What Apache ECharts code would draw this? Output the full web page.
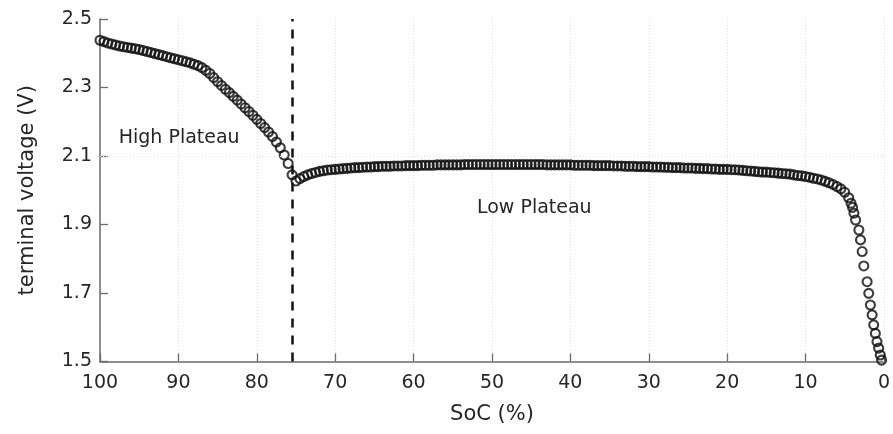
<!DOCTYPE html>
<html>
<head>
<meta charset="utf-8">
<script src="https://cdn.jsdelivr.net/npm/echarts@6/dist/echarts.min.js"></script>
<style>
html,body{margin:0;padding:0;background:#fff;}
#c{width:893px;height:434px;}
</style>
</head>
<body>
<div id="c"></div>
<script>
// SoC (%) sample positions
var soc = [
100,99.5,99,98.5,98,97.5,97,96.5,96,95.5,
95,94.5,94,93.5,93,92.5,92,91.5,91,90.5,
90,89.5,89,88.5,88,87.5,87,86.5,86,85.5,
85,84.5,84,83.5,83,82.5,82,81.5,81,80.5,
80,79.5,79,78.5,78,77.5,77,76.5,76,75.5,
75,74.5,74,73.5,73,72.5,72,71.5,71,70.5,
70,69.5,69,68.5,68,67.5,67,66.5,66,65.5,
65,64.5,64,63.5,63,62.5,62,61.5,61,60.5,
60,59.5,59,58.5,58,57.5,57,56.5,56,55.5,
55,54.5,54,53.5,53,52.5,52,51.5,51,50.5,
50,49.5,49,48.5,48,47.5,47,46.5,46,45.5,
45,44.5,44,43.5,43,42.5,42,41.5,41,40.5,
40,39.5,39,38.5,38,37.5,37,36.5,36,35.5,
35,34.5,34,33.5,33,32.5,32,31.5,31,30.5,
30,29.5,29,28.5,28,27.5,27,26.5,26,25.5,
25,24.5,24,23.5,23,22.5,22,21.5,21,20.5,
20,19.5,19,18.5,18,17.5,17,16.5,16,15.5,
15,14.5,14,13.5,13,12.5,12,11.5,11,10.5,
10,9.5,9,8.5,8,7.5,7,6.5,6,5.5,
5,4.5,4.2,4.0,3.83,3.62,3.2,2.99,2.78,2.57,
2.15,1.94,1.73,1.51,1.31,1.10,0.89,0.68,0.47,0.3
];
// terminal voltage (V)
var voltage = [
2.438,2.434,2.430,2.427,2.424,2.421,2.419,2.417,2.415,2.413,
2.411,2.408,2.405,2.402,2.399,2.396,2.393,2.390,2.387,2.384,
2.381,2.378,2.375,2.372,2.368,2.364,2.358,2.350,2.341,2.329,
2.317,2.306,2.295,2.285,2.274,2.263,2.252,2.241,2.230,2.219,
2.207,2.195,2.183,2.170,2.157,2.141,2.124,2.103,2.078,2.045,
2.027,2.034,2.040,2.045,2.049,2.052,2.055,2.057,2.059,2.060,
2.061,2.062,2.063,2.064,2.065,2.066,2.066,2.067,2.068,2.068,
2.069,2.069,2.070,2.070,2.070,2.071,2.071,2.071,2.072,2.072,
2.072,2.072,2.073,2.073,2.073,2.073,2.074,2.074,2.074,2.074,
2.074,2.074,2.074,2.075,2.075,2.075,2.075,2.075,2.075,2.075,
2.075,2.075,2.075,2.075,2.075,2.075,2.075,2.075,2.075,2.075,
2.075,2.075,2.075,2.075,2.074,2.074,2.074,2.074,2.074,2.074,
2.074,2.073,2.073,2.073,2.073,2.073,2.072,2.072,2.072,2.072,
2.072,2.071,2.071,2.071,2.070,2.070,2.070,2.069,2.069,2.069,
2.069,2.068,2.068,2.068,2.067,2.067,2.066,2.066,2.066,2.065,
2.065,2.065,2.064,2.064,2.063,2.063,2.062,2.062,2.061,2.061,
2.061,2.060,2.060,2.059,2.058,2.057,2.056,2.055,2.054,2.053,
2.053,2.052,2.051,2.050,2.049,2.048,2.047,2.045,2.043,2.042,
2.040,2.038,2.035,2.033,2.030,2.026,2.022,2.017,2.011,2.004,
1.994,1.978,1.962,1.950,1.933,1.913,1.884,1.855,1.821,1.779,
1.733,1.699,1.665,1.636,1.607,1.582,1.558,1.539,1.519,1.504
];
var xTicks = [0,10,20,30,40,50,60,70,80,90,100];
var yTicks = [1.5,1.7,1.9,2.1,2.3,2.5];
var plateauBoundary = 75.5;
var gridLineV = 2.1;
var annotations = [
  {text:'High Plateau', soc:89.9, v:2.153},
  {text:'Low Plateau', soc:44.6, v:1.948}
];

var FONT = 'DejaVu Sans';
var points = soc.map(function(s,i){return [s, voltage[i]];});

var chart = echarts.init(document.getElementById('c'), null, {renderer:'canvas'});
chart.setOption({
  backgroundColor:'#ffffff',
  animation:false,
  grid:{left:100, right:-1, top:19, bottom:72.5, containLabel:false},
  xAxis:{
    type:'value', min:xTicks[0], max:xTicks[xTicks.length-1], interval:10, inverse:true,
    name:'SoC (%)', nameLocation:'middle', nameGap:43,
    nameTextStyle:{fontFamily:FONT, fontSize:21, color:'#262626'},
    axisLine:{show:true, onZero:false, lineStyle:{color:'#6b6b6b', width:1.5}},
    axisTick:{show:true, inside:true, length:8, lineStyle:{color:'#6b6b6b', width:1.3}},
    axisLabel:{fontFamily:FONT, fontSize:19, color:'#262626', margin:12},
    splitLine:{show:true, lineStyle:{color:'#e2e2e2', type:[1,2], width:1}}
  },
  yAxis:{
    type:'value', min:yTicks[0], max:yTicks[yTicks.length-1],
    name:'terminal voltage (V)', nameLocation:'middle', nameGap:62,
    nameTextStyle:{fontFamily:FONT, fontSize:21, color:'#262626'},
    axisLine:{show:true, onZero:false, lineStyle:{color:'#6b6b6b', width:1.5}},
    axisTick:{show:true, inside:true, length:8, customValues:yTicks, lineStyle:{color:'#6b6b6b', width:1.3}},
    axisLabel:{fontFamily:FONT, fontSize:19, color:'#262626', margin:8, customValues:yTicks,
      formatter:function(v){return Number(v).toFixed(1);}},
    splitLine:{show:false}
  },
  series:[
    {
      type:'scatter', data:[], silent:true, z:1,
      markLine:{silent:true, symbol:['none','none'], label:{show:false},
        lineStyle:{color:'#e2e2e2', type:[1,2], width:1},
        data:[{yAxis:gridLineV}]}
    },
    {
      type:'scatter', data:points, symbol:'circle', symbolSize:9, z:3,
      itemStyle:{color:'rgba(255,255,255,0)', borderColor:'#0d0d0d', borderWidth:2.1}
    },
    {
      type:'scatter', data:[], silent:true, z:4,
      markLine:{silent:true, symbol:['none','none'], label:{show:false},
        lineStyle:{color:'#111', type:[9,8], width:2.5},
        data:[{xAxis:plateauBoundary}]},
      markPoint:{
        symbol:'circle', symbolSize:0,
        label:{show:true, position:'inside', fontFamily:FONT, fontSize:19, color:'#262626',
          formatter:function(p){return p.name;}},
        data:annotations.map(function(a){return {name:a.text, coord:[a.soc, a.v]};})
      }
    }
  ]
});
</script>
</body>
</html>
